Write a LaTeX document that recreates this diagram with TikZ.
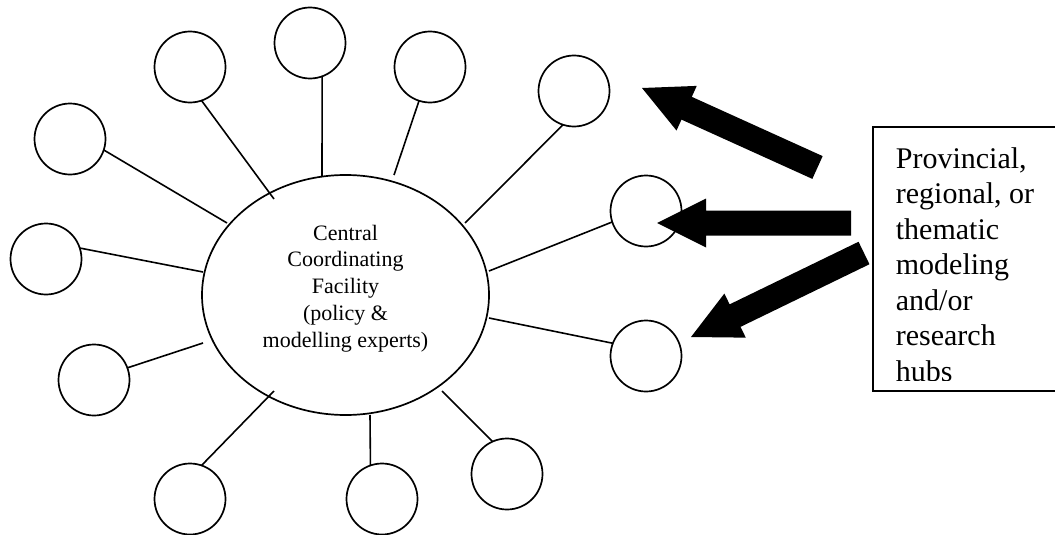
\documentclass[tikz,border=0pt]{standalone}
\usepackage{fontspec}
\setmainfont{Liberation Serif}
\usetikzlibrary{calc,shapes.geometric}
\newcommand\blockarrow[2]{% #1 = tail, #2 = tip
  \coordinate (ba-h) at ($(#2)!49pt!(#1)$);
  \fill[arrowfill] ($(#1)!12.5pt!90:(#2)$) -- ($(ba-h)!12.5pt!90:(#2)$) --
    ($(ba-h)!24.5pt!90:(#2)$) -- (#2) -- ($(ba-h)!24.5pt!-90:(#2)$) --
    ($(ba-h)!12.5pt!-90:(#2)$) -- ($(#1)!12.5pt!-90:(#2)$) -- cycle;}
\begin{document}
\begin{tikzpicture}[x=1pt,y=-1pt,
  line width=1.7pt,
  hubcircle/.style={draw, circle, minimum size=71pt, inner sep=0pt, outer sep=0pt},
  centre/.style={draw, ellipse, minimum width=287pt, minimum height=240pt, inner sep=0pt, outer sep=0pt},
  spoke/.style={line width=1.6pt},
  centretext/.style={font=\fontsize{22}{26.8}\selectfont, align=center, inner sep=0pt},
  hubsframe/.style={draw, rectangle, inner sep=0pt, outer sep=0pt, anchor=north west},
  hubstext/.style={font=\fontsize{30}{35.5}\selectfont, align=left, inner sep=0pt, anchor=north west},
  arrowfill/.style={fill=black}
]
\useasboundingbox[fill=white] (0,0) rectangle (1055,535);

% central facility
\node[centre] (ctr) at (345.5,295) {};
\node[centretext] (ctrtext) at (345.5,288.4) {Central\\Coordinating\\Facility\\(policy \&\\modelling experts)};

% hubs
\node[hubcircle] (c1)  at (70,139)  {};
\node[hubcircle] (c2)  at (190,67)  {};
\node[hubcircle] (c3)  at (310,43)  {};
\node[hubcircle] (c4)  at (430,67)  {};
\node[hubcircle] (c5)  at (574,91)  {};
\node[hubcircle] (c6)  at (646,211) {};
\node[hubcircle] (c7)  at (46,259)  {};
\node[hubcircle] (c8)  at (94,380)  {};
\node[hubcircle] (c9)  at (190,499) {};
\node[hubcircle] (c10) at (382,499) {};
\node[hubcircle] (c11) at (507,474) {};
\node[hubcircle] (c12) at (646,356) {};

% spoke ends at the central facility
\coordinate (e1)  at (227,223);
\coordinate (e2)  at (274,199);
\coordinate (e3)  at (322,176);
\coordinate (e4)  at (394,175);
\coordinate (e5)  at (465,223);
\coordinate (e6)  at (489,271);
\coordinate (e7)  at (203,272);
\coordinate (e8)  at (203,343);
\coordinate (e9)  at (274,391);
\coordinate (e10) at (370,415);
\coordinate (e11) at (442,391);
\coordinate (e12) at (489,318);

\draw[spoke] (c1.-18.9)  -- (e1);
\draw[spoke] (c2.-71.6)  -- (e2);
\draw[spoke] (c3.-70.5)  -- (e3);
\draw[spoke] (c4.-108.4) -- (e4);
\draw[spoke] (c5.-108.4) -- (e5);
\draw[spoke] (c6.198.9)  -- (e6);
\draw[spoke] (c7.18.4)   -- (e7);
\draw[spoke] (c8.20.4)   -- (e8);
\draw[spoke] (c9.71)     -- (e9);
\draw[spoke] (c10.109.5) -- (e10);
\draw[spoke] (c11.114.6) -- (e11);
\draw[spoke] (c12.159.6) -- (e12);

% text box (right side runs off the page)
\node[hubsframe, minimum width=200pt, minimum height=264pt] (hubsbox) at (873,127) {};
\begin{scope}
  \clip (873,127) rectangle (1055,380);
  \node[hubstext] (hubslabel) at (895,146.5) {Provincial,\\regional, or\\thematic\\modeling\\and/or\\research\\hubs};
\end{scope}

% block arrows
\coordinate (t1) at (817.5,167.5); \coordinate (p1) at (642,88);
\coordinate (t2) at (851,223);     \coordinate (p2) at (657,223);
\coordinate (t3) at (864,253);     \coordinate (p3) at (691,337);
\blockarrow{t1}{p1}
\blockarrow{t2}{p2}
\blockarrow{t3}{p3}
\end{tikzpicture}
\end{document}
